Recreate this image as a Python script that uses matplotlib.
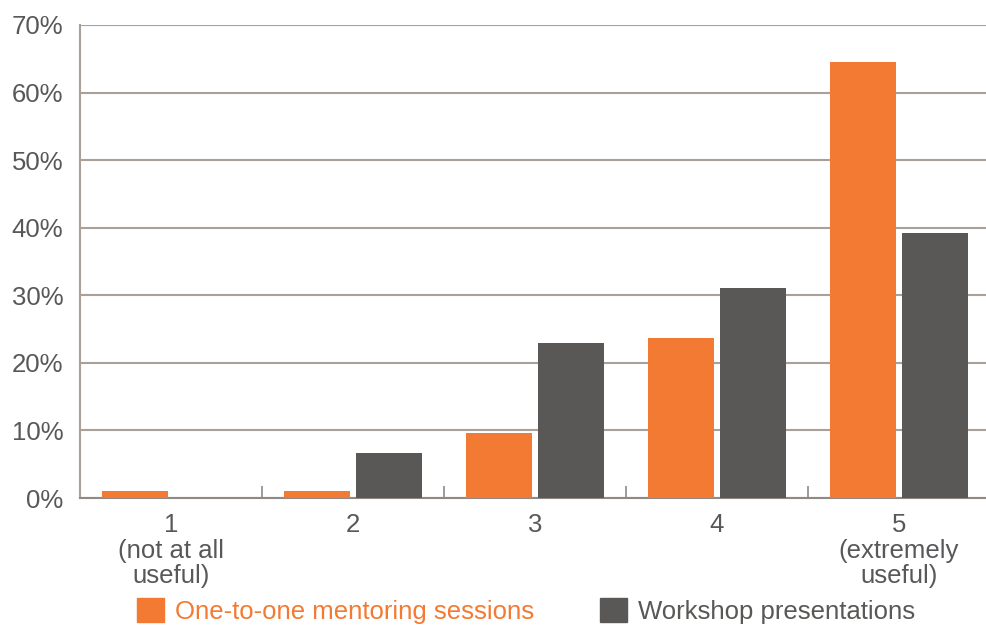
import numpy as np
import matplotlib
matplotlib.use("Agg")
import matplotlib.pyplot as plt
from matplotlib.patches import Patch
from matplotlib.ticker import FuncFormatter

plt.rcParams['font.family'] = ['Liberation Sans', 'DejaVu Sans']

categories = ["1\n(not at all\nuseful)", "2", "3", "4", "5\n(extremely\nuseful)"]
mentoring = [1.0, 1.0, 9.6, 23.7, 64.5]
workshop = [0.0, 6.7, 22.9, 31.1, 39.2]
series_names = ["One-to-one mentoring sessions", "Workshop presentations"]

orange = '#f37a32'
gray = '#5a5856'
text_col = '#58585a'
grid_col = '#a8a099'
fs = 18.5

fig = plt.figure(figsize=(9.87, 6.30), dpi=100)
ax = fig.add_axes([80/987, 132/630, 907/987, 473/630])

x = np.arange(len(categories))
w = 0.363
ax.bar(x - 0.2, mentoring, w, color=orange, zorder=3)
ax.bar(x + 0.2, workshop, w, color=gray, zorder=3)

ax.set_xlim(-0.5, -0.5 + 907/182)
ax.set_ylim(0, 70)
ax.set_yticks(np.arange(0, 71, 10))
ax.yaxis.set_major_formatter(FuncFormatter(lambda v, p: f"{int(v)}%"))
ax.yaxis.grid(True, color=grid_col, linewidth=1.5, zorder=0)
ax.set_axisbelow(True)

ax.set_xticks(x)
ax.set_xticklabels(categories, linespacing=1.08)
ax.set_xticks(np.arange(0.5, 4, 1), minor=True)
ax.tick_params(axis='x', which='major', length=0, pad=11, labelsize=fs, labelcolor=text_col)
ax.tick_params(axis='x', which='minor', direction='in', length=9, width=1.2, color='#8f8a85')
ax.tick_params(axis='y', length=0, pad=12, labelsize=fs, labelcolor=text_col)

for s in ['top', 'right']:
    ax.spines[s].set_visible(False)
ax.spines['left'].set_color(grid_col)
ax.spines['left'].set_linewidth(1.5)
ax.spines['bottom'].set_color('#8f8a85')
ax.spines['bottom'].set_linewidth(1.5)

handles = [Patch(color=orange), Patch(color=gray)]
leg = fig.legend(handles, series_names, loc='center', bbox_to_anchor=(0.533, 0.03),
                 ncol=2, frameon=False, fontsize=fs, handlelength=1.05, handleheight=1.05,
                 handletextpad=0.45, columnspacing=2.55, borderpad=0)
leg.get_texts()[0].set_color(orange)
leg.get_texts()[1].set_color(gray)

fig.savefig("out.png", dpi=100)
